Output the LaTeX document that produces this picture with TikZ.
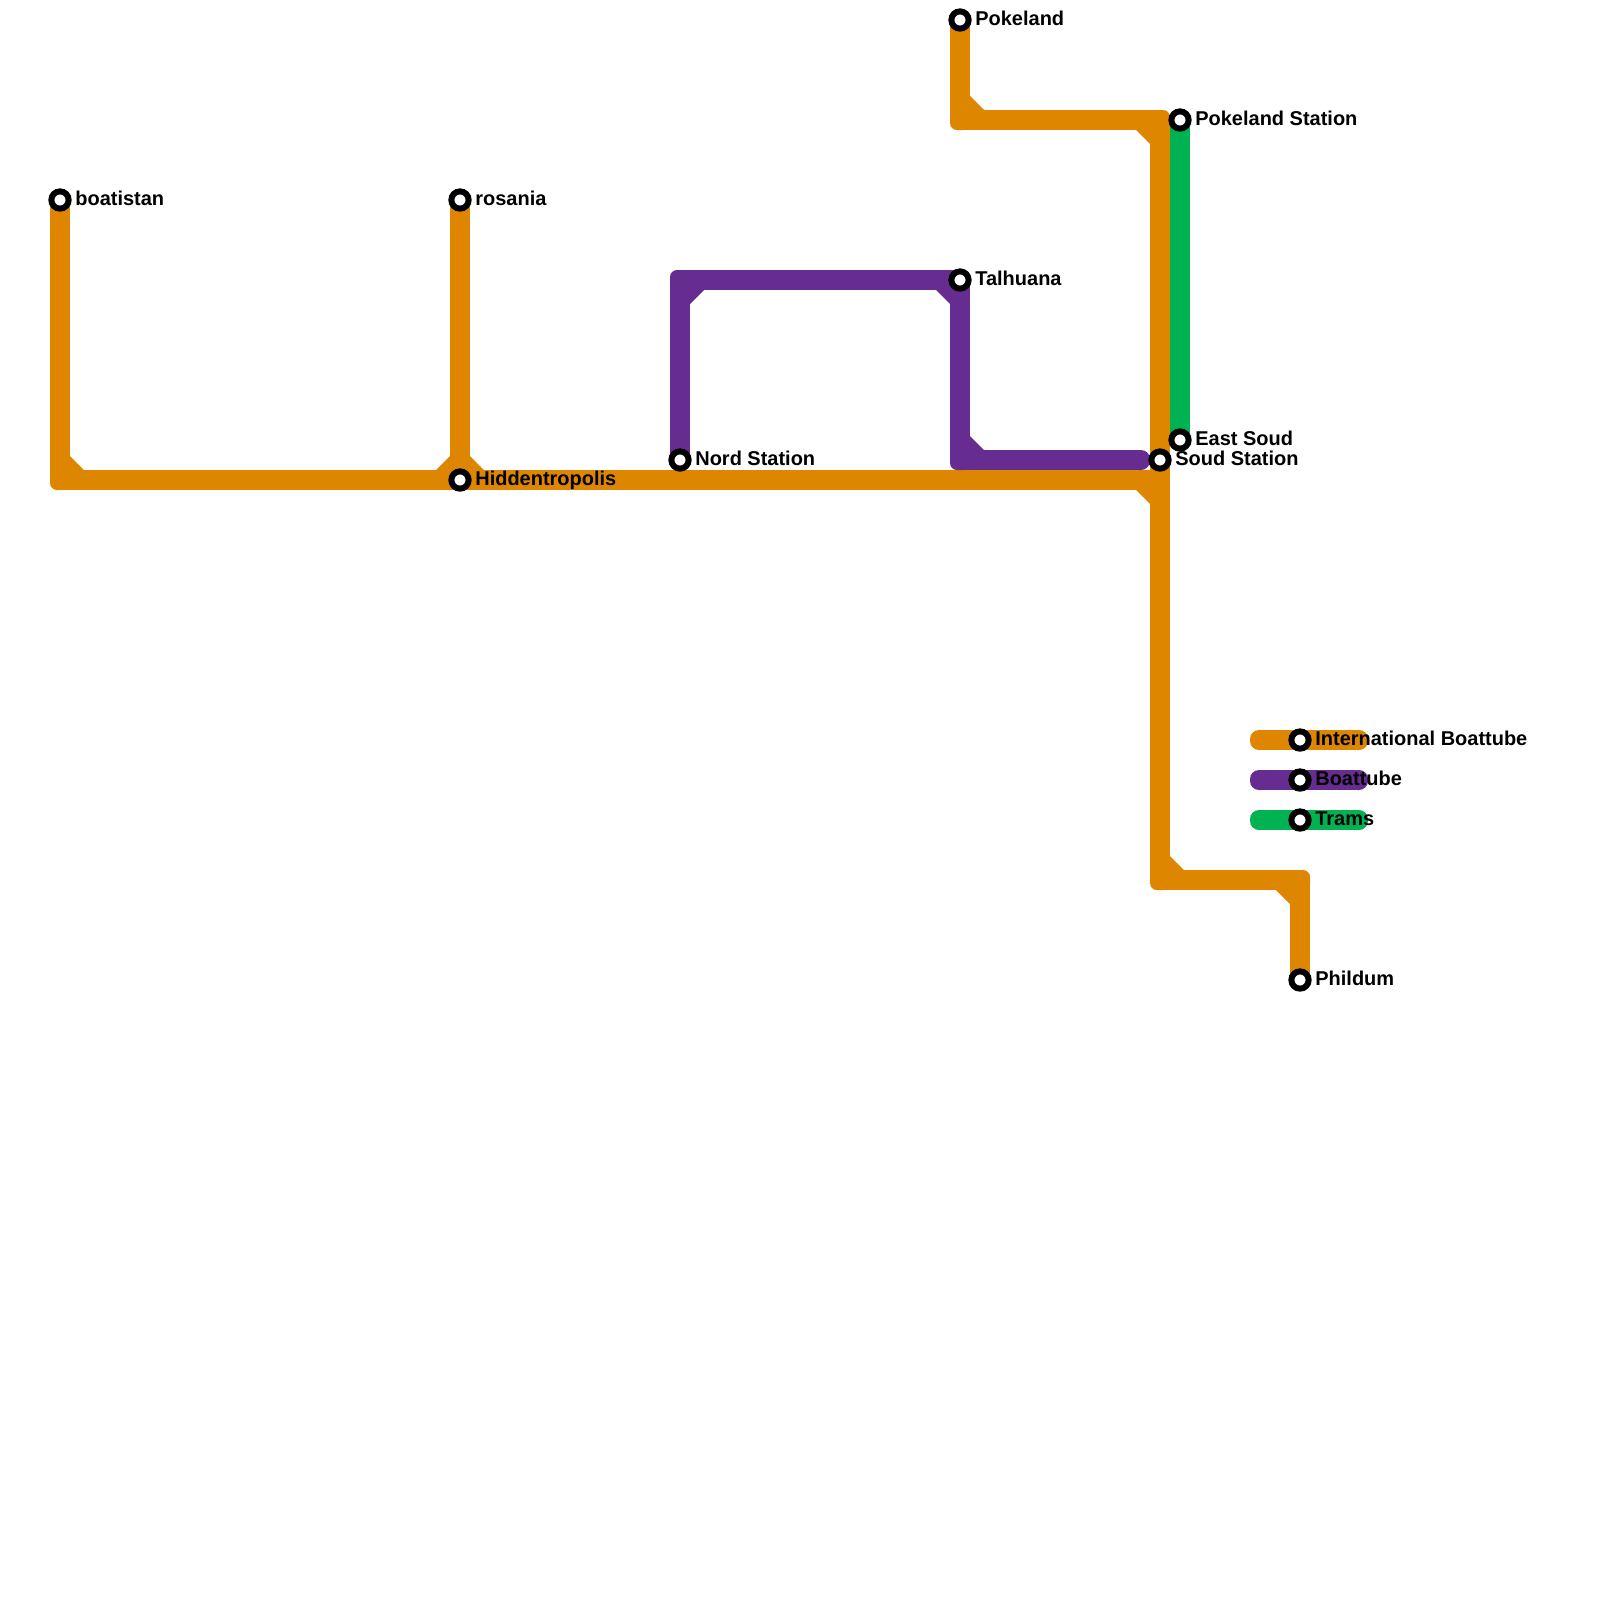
\documentclass[tikz,border=0pt]{standalone}
\usepackage{fontspec}
\setmainfont{Liberation Sans}
\usetikzlibrary{backgrounds}
\definecolor{lineorange}{HTML}{DF8600}
\definecolor{linepurple}{HTML}{662C90}
\definecolor{linegreen}{HTML}{00B251}
\tikzset{
  station/.style={circle, draw=black, fill=white, line width=0.12cm, minimum size=0.346cm, inner sep=0pt, outer sep=0pt},
  stationlabel/.style={anchor=base west, inner sep=0pt, font=\bfseries\fontsize{11.37pt}{13pt}\selectfont},
  route/.style={line width=0.4cm, line cap=butt},
  orangeroute/.style={route, draw=lineorange},
  purpleroute/.style={route, draw=linepurple},
  greenroute/.style={route, draw=linegreen},
  fillet/.pic={\fill[pic actions] (9,-9) -- (9,-24) -- (10,-24) -- (24,-10) -- (24,-9) -- cycle;},
  bend/.pic={
    \fill[pic actions, rounded corners=0.14cm] (-10,-10) rectangle (10,10);
    \fill[pic actions] (9,-9) -- (9,-24) -- (10,-24) -- (24,-10) -- (24,-9) -- cycle;
  },
  routetip/.pic={\fill[pic actions, rounded corners=0.18cm] (-10,-10) rectangle (10,10);}
}
\begin{document}
\begin{tikzpicture}[x=0.02cm, y=-0.02cm]
  \useasboundingbox (0,0) rectangle (1600,1600);
  % stations
  \node[station] (boatistan) at (60,200) {};
  \node[station] (rosania) at (460,200) {};
  \node[station] (hiddentropolis) at (460,480) {};
  \node[station] (nordstation) at (680,460) {};
  \node[station] (talhuana) at (960,280) {};
  \node[station] (pokeland) at (960,20) {};
  \node[station] (pokelandstation) at (1180,120) {};
  \node[station] (eastsoud) at (1180,440) {};
  \node[station] (soudstation) at (1160,460) {};
  \node[station] (phildum) at (1300,980) {};
  \node[station] (keyorange) at (1300,740) {};
  \node[station] (keypurple) at (1300,780) {};
  \node[station] (keygreen) at (1300,820) {};
  % corners
  \coordinate (boatistanbend) at (60,480);
  \coordinate (pokelandbend) at (960,120);
  \coordinate (northeastbend) at (1160,120);
  \coordinate (soudjoin) at (1160,480);
  \coordinate (southbend) at (1160,880);
  \coordinate (phildumbend) at (1300,880);
  \coordinate (nordbend) at (680,280);
  \coordinate (talhuanabend) at (960,460);
  \coordinate (purpleend) at (1140,460);
  \coordinate (keyorangeleft) at (1260,740);
  \coordinate (keyorangeright) at (1358,740);
  \coordinate (keypurpleleft) at (1260,780);
  \coordinate (keypurpleright) at (1358,780);
  \coordinate (keygreenleft) at (1260,820);
  \coordinate (keygreenright) at (1358,820);
  % routes go under the stations
  \begin{scope}[on background layer]
    \draw[orangeroute] (boatistan.center) -- (boatistanbend);
    \draw[orangeroute] (boatistanbend) -- (hiddentropolis.center);
    \draw[orangeroute] (rosania.center) -- (hiddentropolis.center);
    \draw[orangeroute] (hiddentropolis.center) -- (soudjoin);
    \draw[orangeroute] (pokeland.center) -- (pokelandbend);
    \draw[orangeroute] (pokelandbend) -- (northeastbend);
    \draw[orangeroute] (northeastbend) -- (southbend);
    \draw[orangeroute] (southbend) -- (phildumbend);
    \draw[orangeroute] (phildumbend) -- (phildum.center);
    \pic[fill=lineorange] at (boatistanbend) {bend};
    \pic[fill=lineorange] at (pokelandbend) {bend};
    \pic[fill=lineorange, xscale=-1, yscale=-1] at (northeastbend) {bend};
    \pic[fill=lineorange] at (southbend) {bend};
    \pic[fill=lineorange, xscale=-1, yscale=-1] at (phildumbend) {bend};
    \pic[fill=lineorange] at (hiddentropolis) {fillet};
    \pic[fill=lineorange, xscale=-1] at (hiddentropolis) {fillet};
    \pic[fill=lineorange, xscale=-1, yscale=-1] at (soudjoin) {fillet};
    \draw[purpleroute] (nordstation.center) -- (nordbend);
    \draw[purpleroute] (nordbend) -- (talhuana.center);
    \draw[purpleroute] (talhuana.center) -- (talhuanabend);
    \draw[purpleroute] (talhuanabend) -- (purpleend);
    \pic[fill=linepurple, yscale=-1] at (nordbend) {bend};
    \pic[fill=linepurple, xscale=-1, yscale=-1] at (talhuana) {bend};
    \pic[fill=linepurple] at (talhuanabend) {bend};
    \pic[fill=linepurple] at (purpleend) {routetip};
    \draw[greenroute] (pokelandstation.center) -- (eastsoud.center);
    % key
    \draw[orangeroute] (keyorangeleft) -- (keyorangeright);
    \pic[fill=lineorange] at (keyorangeleft) {routetip};
    \pic[fill=lineorange] at (keyorangeright) {routetip};
    \draw[purpleroute] (keypurpleleft) -- (keypurpleright);
    \pic[fill=linepurple] at (keypurpleleft) {routetip};
    \pic[fill=linepurple] at (keypurpleright) {routetip};
    \draw[greenroute] (keygreenleft) -- (keygreenright);
    \pic[fill=linegreen] at (keygreenleft) {routetip};
    \pic[fill=linegreen] at (keygreenright) {routetip};
  \end{scope}
  % labels
  \node[stationlabel] (boatistantext) at (75,205) {boatistan};
  \node[stationlabel] (rosaniatext) at (475,205) {rosania};
  \node[stationlabel] (hiddentropolistext) at (475,485) {Hiddentropolis};
  \node[stationlabel] (nordstationtext) at (695,465) {Nord Station};
  \node[stationlabel] (talhuanatext) at (975,285) {Talhuana};
  \node[stationlabel] (pokelandtext) at (975,25) {Pokeland};
  \node[stationlabel] (pokelandstationtext) at (1195,125) {Pokeland Station};
  \node[stationlabel] (eastsoudtext) at (1195,445) {East Soud};
  \node[stationlabel] (soudstationtext) at (1175,465) {Soud Station};
  \node[stationlabel] (phildumtext) at (1315,985) {Phildum};
  \node[stationlabel] (keyorangetext) at (1315,745) {International Boattube};
  \node[stationlabel] (keypurpletext) at (1315,785) {Boattube};
  \node[stationlabel] (keygreentext) at (1315,825) {Trams};
\end{tikzpicture}
\end{document}
